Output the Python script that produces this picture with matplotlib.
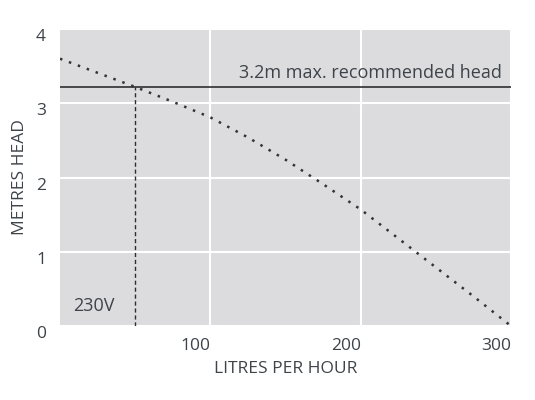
import matplotlib
matplotlib.use("Agg")
import matplotlib.pyplot as plt

# pump curve
flow = [0, 25, 50, 75, 100, 125, 150, 175, 200, 225, 250, 275, 300]
head = [3.6, 3.41, 3.22, 3.02, 2.81, 2.54, 2.24, 1.91, 1.57, 1.18, 0.79, 0.40, 0.0]

max_head = 3.22
op_flow = 50
x_ticks = [100, 200, 300]
y_ticks = [0, 1, 2, 3, 4]

plt.rcParams['font.family'] = ['Open Sans', 'DejaVu Sans']
txt = '#3e4349'

fig = plt.figure(figsize=(5.35, 4), dpi=100)
ax = fig.add_axes([60 / 535, 74 / 400, 451 / 535, 297 / 400])
ax.set_facecolor('#dcdcde')
for s in ax.spines.values():
    s.set_visible(False)

ax.set_xlim(0, 300)
ax.set_ylim(0, 4)
ax.set_xticks(x_ticks)
ax.set_yticks(y_ticks)
ax.grid(True, color='white', linewidth=1.5)
ax.set_axisbelow(True)
ax.tick_params(length=0, labelsize=12.5, labelcolor=txt)
ax.tick_params(axis='x', pad=9)
ax.tick_params(axis='y', pad=10)
for lab in ax.get_xticklabels():
    lab.set_ha('right')
for lab in ax.get_yticklabels():
    lab.set_va('top')

ax.plot(flow, head, color='#333333', linewidth=1.8,
        linestyle=(0, (1, 2.8)), dash_capstyle='butt')
ax.axhline(max_head, color='#2e2e2e', linewidth=1.2)
ax.plot([op_flow, op_flow], [0, max_head], color='#2e2e2e', linewidth=1,
        linestyle=(0, (3, 2)))

ax.text(294, max_head + 0.07, '3.2m max. recommended head', ha='right',
        va='bottom', fontsize=13, color=txt)
ax.text(9, 0.27, '230V', ha='left', va='center', fontsize=13, color=txt)

ax.set_xlabel('LITRES PER HOUR', fontsize=12.5, color=txt, labelpad=5)
ax.set_ylabel('METRES HEAD', fontsize=12.5, color=txt, labelpad=6)

fig.savefig('out.png', dpi=100)
